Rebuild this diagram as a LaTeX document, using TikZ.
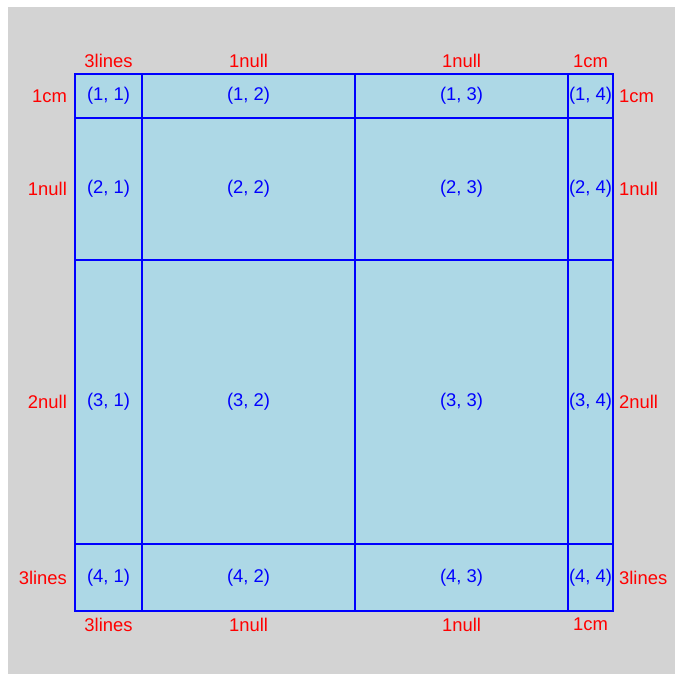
\documentclass[tikz,border=0pt]{standalone}
\usepackage{fontspec}
\setmainfont{Liberation Sans}
\usetikzlibrary{positioning}
\definecolor{cellfill}{RGB}{173,216,230}
\definecolor{bggray}{RGB}{211,211,211}
\newdimen\pxu \pxu=0.75pt
\begin{document}
\begin{tikzpicture}[x=0.75pt, y=-0.75pt,
  cell/.style={draw=blue, line width=1.3pt, fill=cellfill, text=blue, inner sep=0pt,
               text height=0.73em, text depth=0.05em,
               font=\fontsize{13.8}{16}\selectfont},
  dim/.style={text=red, inner sep=0pt, font=\fontsize{13.8}{16}\selectfont},
  node distance=6\pxu,
]
\useasboundingbox[fill=white] (0,0) rectangle (675,674);
\fill[bggray] (8,7) rectangle (675,674);
%% Row 1
\node[cell, minimum width=67\pxu, minimum height=44\pxu] (c11) at (108.5,96) {(1, 1)};
\node[cell, minimum width=213\pxu, minimum height=44\pxu] (c12) at (248.5,96) {(1, 2)};
\node[cell, minimum width=213\pxu, minimum height=44\pxu] (c13) at (461.5,96) {(1, 3)};
\node[cell, minimum width=45\pxu, minimum height=44\pxu] (c14) at (590.5,96) {(1, 4)};
%% Row 2
\node[cell, minimum width=67\pxu, minimum height=142\pxu] (c21) at (108.5,189) {(2, 1)};
\node[cell, minimum width=213\pxu, minimum height=142\pxu] (c22) at (248.5,189) {(2, 2)};
\node[cell, minimum width=213\pxu, minimum height=142\pxu] (c23) at (461.5,189) {(2, 3)};
\node[cell, minimum width=45\pxu, minimum height=142\pxu] (c24) at (590.5,189) {(2, 4)};
%% Row 3
\node[cell, minimum width=67\pxu, minimum height=284\pxu] (c31) at (108.5,402) {(3, 1)};
\node[cell, minimum width=213\pxu, minimum height=284\pxu] (c32) at (248.5,402) {(3, 2)};
\node[cell, minimum width=213\pxu, minimum height=284\pxu] (c33) at (461.5,402) {(3, 3)};
\node[cell, minimum width=45\pxu, minimum height=284\pxu] (c34) at (590.5,402) {(3, 4)};
%% Row 4
\node[cell, minimum width=67\pxu, minimum height=67\pxu] (c41) at (108.5,577.5) {(4, 1)};
\node[cell, minimum width=213\pxu, minimum height=67\pxu] (c42) at (248.5,577.5) {(4, 2)};
\node[cell, minimum width=213\pxu, minimum height=67\pxu] (c43) at (461.5,577.5) {(4, 3)};
\node[cell, minimum width=45\pxu, minimum height=67\pxu] (c44) at (590.5,577.5) {(4, 4)};
%% Column widths
\node[dim, above=5\pxu of c11] (wt1) {3lines};
\node[dim, above=5\pxu of c12] (wt2) {1null};
\node[dim, above=5\pxu of c13] (wt3) {1null};
\node[dim, above=5\pxu of c14] (wt4) {1cm};
\node[dim, below=of c41] (wb1) {3lines};
\node[dim, below=of c42] (wb2) {1null};
\node[dim, below=of c43] (wb3) {1null};
\node[dim, below=of c44] (wb4) {1cm};
%% Row heights
\node[dim, left=7\pxu of c11] (hl1) {1cm};
\node[dim, left=7\pxu of c21] (hl2) {1null};
\node[dim, left=7\pxu of c31] (hl3) {2null};
\node[dim, left=7\pxu of c41] (hl4) {3lines};
\node[dim, right=5\pxu of c14] (hr1) {1cm};
\node[dim, right=5\pxu of c24] (hr2) {1null};
\node[dim, right=5\pxu of c34] (hr3) {2null};
\node[dim, right=5\pxu of c44] (hr4) {3lines};
\end{tikzpicture}
\end{document}
